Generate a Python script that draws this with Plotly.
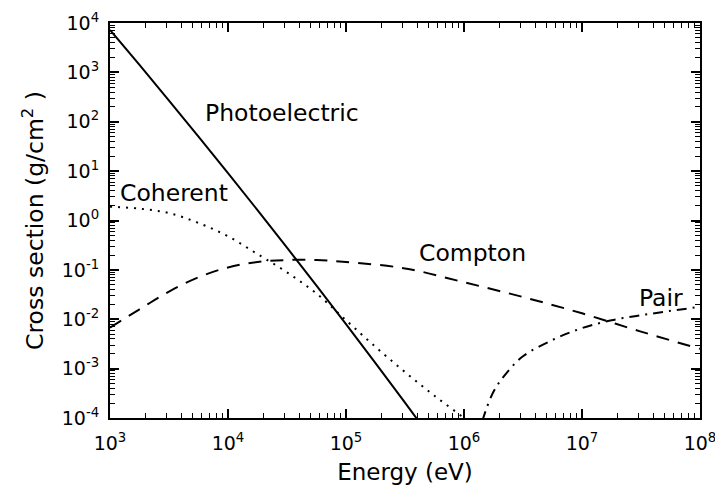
import plotly.graph_objects as go

# Photon interaction cross sections vs energy (log10 values)
photo_logE = [3.0, 3.25, 3.5, 3.75, 4.0, 4.25, 4.5, 4.75, 5.0, 5.25, 5.5, 5.75]
photo_logS = [3.86, 3.15, 2.43, 1.70, 0.96, 0.21, -0.55, -1.32, -2.10, -2.89, -3.69, -4.50]

coh_logE = [3.0, 3.25, 3.5, 3.75, 4.0, 4.25, 4.5, 4.75, 5.0, 5.25, 5.5, 5.75, 6.0, 6.1]
coh_logS = [0.28, 0.24, 0.15, -0.05, -0.32, -0.68, -1.05, -1.48, -2.02, -2.56, -3.07, -3.55, -4.0, -4.2]

comp_logE = [3.0, 3.25, 3.5, 3.75, 4.0, 4.25, 4.5, 4.75, 5.0, 5.5, 6.0, 6.5, 7.0, 7.5, 8.0]
comp_logS = [-2.17, -1.80, -1.44, -1.15, -0.95, -0.84, -0.80, -0.80, -0.84, -0.97, -1.25, -1.55, -1.88, -2.25, -2.60]

pair_logE = [6.05, 6.15, 6.25, 6.36, 6.5, 6.75, 7.0, 7.25, 7.5, 7.75, 8.0]
pair_logS = [-5.0, -4.1, -3.47, -3.09, -2.75, -2.42, -2.18, -2.02, -1.92, -1.83, -1.75]

x_exps = [3, 4, 5, 6, 7, 8]
y_exps = [-4, -3, -2, -1, 0, 1, 2, 3, 4]

labels = ["Photoelectric", "Coherent", "Compton", "Pair"]
label_pos = [(3.79, 2.18), (3.07, 0.55), (5.60, -0.66), (7.47, -1.57)]

FONT = "DejaVu Sans"
X_RANGE = [3, 8.0001]
Y_RANGE = [-4.0001, 4.0001]


def p10(v):
    return [10 ** t for t in v]


fig = go.Figure()
fig.add_trace(go.Scatter(x=p10(photo_logE), y=p10(photo_logS), mode="lines",
                         line=dict(color="black", width=2, dash="solid"), line_shape="spline"))
fig.add_trace(go.Scatter(x=p10(coh_logE), y=p10(coh_logS), mode="lines",
                         line=dict(color="black", width=2, dash="2px,6px"), line_shape="spline"))
fig.add_trace(go.Scatter(x=p10(comp_logE), y=p10(comp_logS), mode="lines",
                         line=dict(color="black", width=2, dash="13px,9px"), line_shape="spline"))
fig.add_trace(go.Scatter(x=p10(pair_logE), y=p10(pair_logS), mode="lines",
                         line=dict(color="black", width=2, dash="10px,6px,2px,6px"), line_shape="spline"))
# invisible carrier trace so the top/right tick axes get drawn
fig.add_trace(go.Scatter(x=p10([X_RANGE[0]]), y=p10([Y_RANGE[0]]), xaxis="x2", yaxis="y2",
                         mode="markers", marker=dict(opacity=0), hoverinfo="skip"))

for name, (lx, ly) in zip(labels, label_pos):
    fig.add_annotation(x=lx, y=ly, xref="x", yref="y", text=name, showarrow=False,
                       xanchor="left", yanchor="middle",
                       font=dict(family=FONT, size=23.5, color="black"))

tick_style = dict(type="log", showgrid=False, zeroline=False, automargin=False,
                  ticks="inside", ticklen=9, tickwidth=1.5, tickcolor="black",
                  minor=dict(ticks="inside", ticklen=5, tickwidth=1, tickcolor="black",
                             showgrid=False, dtick="D1"))

fig.update_layout(
    width=715, height=485, showlegend=False,
    margin=dict(l=110, r=15, t=23, b=67, autoexpand=False),
    plot_bgcolor="white", paper_bgcolor="white",
    xaxis=dict(**tick_style, range=X_RANGE, showline=True, linecolor="black", linewidth=2,
               mirror=True, tickvals=p10(x_exps),
               ticktext=[f"10<sup>{e}</sup>" for e in x_exps],
               tickfont=dict(family=FONT, size=19, color="black"),
               ticklabeloverflow="allow", ticklabelstandoff=7,
               title=dict(text="Energy (eV)", standoff=19,
                          font=dict(family=FONT, size=23, color="black"))),
    yaxis=dict(**tick_style, range=Y_RANGE, showline=True, linecolor="black", linewidth=2,
               mirror=True, tickvals=p10(y_exps),
               ticktext=[f"10<sup>{e}</sup>" for e in y_exps],
               tickfont=dict(family=FONT, size=19, color="black"),
               ticklabeloverflow="allow", ticklabelstandoff=5,
               title=dict(text="Cross section (g/cm<sup>2</sup> )", standoff=12,
                          font=dict(family=FONT, size=23.5, color="black"))),
    xaxis2=dict(**tick_style, range=X_RANGE, overlaying="x", side="top", anchor="y",
                showline=False, showticklabels=False, tickvals=p10(x_exps)),
    yaxis2=dict(**tick_style, range=Y_RANGE, overlaying="y", side="right", anchor="x",
                showline=False, showticklabels=False, tickvals=p10(y_exps)),
)

fig.write_html("out.html")
